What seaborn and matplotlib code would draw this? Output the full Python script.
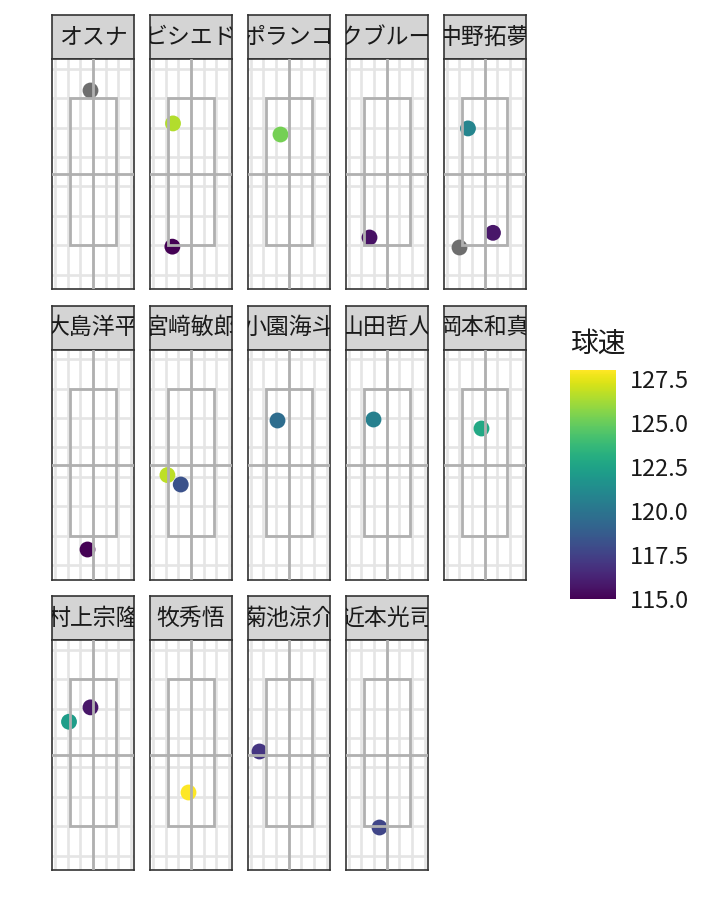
# Pitch locations per batter, coloured by pitch speed
import numpy as np
import pandas as pd
import seaborn as sns
import matplotlib.pyplot as plt
from matplotlib.colors import Normalize
from matplotlib.cm import ScalarMappable
from matplotlib.patches import Rectangle

# facet order (one panel per batter)
players = ['オスナ', 'ビシエド', 'ポランコ', 'マクブルーム', '中野拓夢',
           '大島洋平', '宮﨑敏郎', '小園海斗', '山田哲人', '岡本和真',
           '村上宗隆', '牧秀悟', '菊池涼介', '近本光司']

# one entry per pitch
pitch_player = ['オスナ', 'ビシエド', 'ビシエド', 'ポランコ', 'マクブルーム',
                '中野拓夢', '中野拓夢', '中野拓夢', '大島洋平', '宮﨑敏郎',
                '宮﨑敏郎', '小園海斗', '山田哲人', '岡本和真', '村上宗隆',
                '村上宗隆', '牧秀悟', '菊池涼介', '近本光司']
plate_x = [-0.20, -1.41, -1.46, -0.72, -1.39,
           -1.31, 0.66, -2.02, -0.44, -1.85,
           -0.80, -0.90, -1.08, -0.25, -1.89,
           -0.20, -0.23, -2.37, -0.63]
plate_z = [7.28, 6.14, 1.95, 5.77, 2.27,
           5.97, 2.42, 1.95, 1.55, 4.06,
           3.74, 5.93, 5.97, 5.65, 5.55,
           6.04, 3.17, 4.56, 1.98]
speed = [np.nan, 126.5, 115.0, 125.3, 115.6,
         120.9, 115.8, np.nan, 115.0, 126.7,
         118.3, 119.6, 120.6, 122.8, 122.2,
         115.8, 128.0, 117.0, 117.7]

speed_ticks = [115.0, 117.5, 120.0, 122.5, 125.0, 127.5]
speed_range = (115.0, 128.0)

# strike zone and reference lines
zone_left, zone_right = -1.8, 1.8
zone_bottom, zone_top = 2.0, 7.0
center_x, center_z = 0.0, 4.42

df = pd.DataFrame({'player': pitch_player, 'plate_x': plate_x,
                   'plate_z': plate_z, '球速': speed})

sns.set_style('white')
plt.rcParams['font.family'] = ['Noto Sans CJK JP', 'DejaVu Sans']

W, H = 720, 921
fig = plt.figure(figsize=(W / 100, H / 100), dpi=100)


def box(left, top, w, h):
    return [left / W, 1 - (top + h) / H, w / W, h / H]


norm = Normalize(*speed_range)
zone_grey = '#b0b0b0'

for i, name in enumerate(players):
    r, c = divmod(i, 5)
    left = 52 + 97.9 * c
    top = 15 + 290.5 * r

    # strip
    sax = fig.add_axes(box(left, top, 82, 44.3))
    sax.set_facecolor('#d4d4d4')
    sax.set_xticks([])
    sax.set_yticks([])
    for sp in sax.spines.values():
        sp.set_color('#333333')
        sp.set_linewidth(1.2)
    sax.text(0.5, 0.5, name, transform=sax.transAxes, ha='center', va='center',
             fontsize=16.5, color='#1a1a1a', clip_on=True)

    # panel
    ax = fig.add_axes(box(left, top + 44.3, 82, 230))
    ax.set_facecolor('white')
    ax.set_xlim(-3.23, 3.23)
    ax.set_ylim(0.5, 8.32)
    ax.set_xticks(range(-3, 4))
    ax.set_yticks(range(1, 9))
    ax.grid(True, color='#e5e5e5', linewidth=1.9)
    ax.set_axisbelow(True)
    ax.tick_params(length=0, labelbottom=False, labelleft=False)
    for sp in ax.spines.values():
        sp.set_color('#333333')
        sp.set_linewidth(1.2)

    sub = df[df['player'] == name]
    known = sub.dropna(subset=['球速'])
    missing = sub[sub['球速'].isna()]
    if len(known):
        sns.scatterplot(data=known, x='plate_x', y='plate_z', hue='球速',
                        palette='viridis', hue_norm=norm, s=130, linewidth=0,
                        legend=False, ax=ax, zorder=2)
    if len(missing):
        sns.scatterplot(data=missing, x='plate_x', y='plate_z', color='#6e6e6e',
                        s=130, linewidth=0, legend=False, ax=ax, zorder=2)
    ax.set_xlabel('')
    ax.set_ylabel('')

    ax.add_patch(Rectangle((zone_left, zone_bottom), zone_right - zone_left,
                           zone_top - zone_bottom, fill=False,
                           edgecolor=zone_grey, linewidth=2.0, zorder=3))
    ax.axvline(center_x, color=zone_grey, linewidth=2.0, zorder=3)
    ax.axhline(center_z, color=zone_grey, linewidth=2.0, zorder=3)

# colour bar legend
cax = fig.add_axes(box(570, 370, 46, 229.3))
cb = fig.colorbar(ScalarMappable(norm=norm, cmap='viridis'), cax=cax,
                  ticks=speed_ticks)
cb.outline.set_visible(False)
cb.set_ticklabels([f'{t:.1f}' for t in speed_ticks])
cax.tick_params(direction='in', color='white', length=6.5, width=1,
                left=True, right=True, labelleft=False, labelright=True,
                labelsize=17, pad=10, labelcolor='#1a1a1a')
fig.text(570 / W, 1 - 344 / H, '球速', fontsize=20, va='center', ha='left',
         color='#1a1a1a')

fig.savefig('out.png', dpi=100)
